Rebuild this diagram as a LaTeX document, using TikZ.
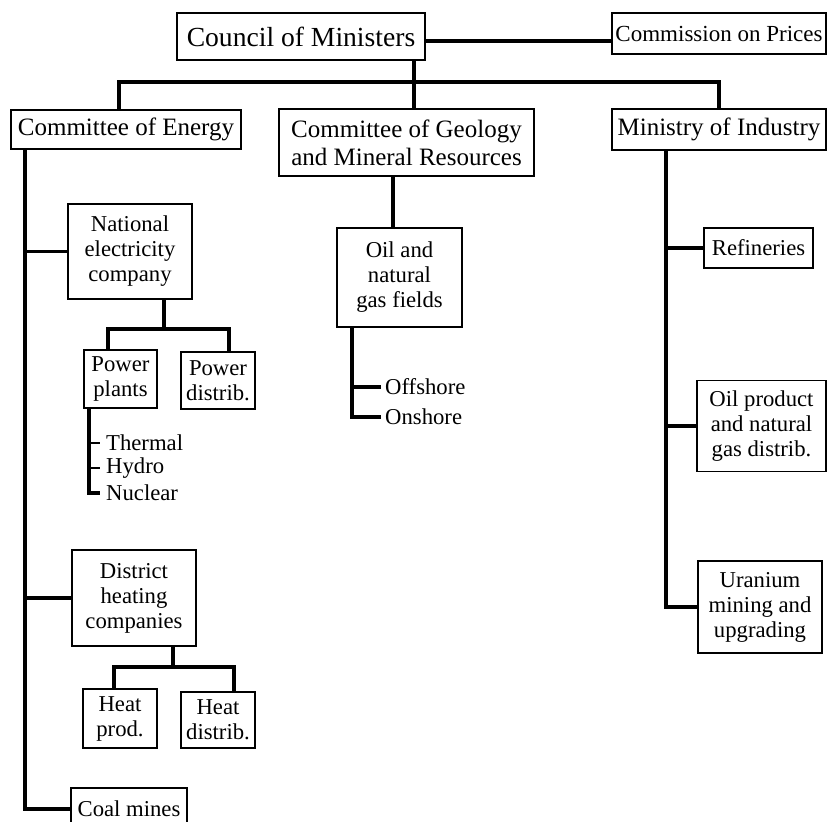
\documentclass[tikz,border=0pt]{standalone}
\usepackage{fontspec}
\setmainfont{Liberation Serif}
\newcommand\fntS{\fontsize{22.7pt}{25pt}\selectfont}
\newcommand\fntC{\fontsize{23pt}{26pt}\selectfont}
\newcommand\fntM{\fontsize{25pt}{28pt}\selectfont}
\newcommand\fntL{\fontsize{27.6pt}{30pt}\selectfont}
\tikzset{
  box/.style={draw, line width=1.1pt, inner sep=0pt, align=center},
  conn/.style={line width=3.2pt, line cap=butt, line join=miter},
  ticker/.style={line width=2.2pt},
  item/.style={inner sep=0pt, anchor=west, font=\fntS},
}
\begin{document}
\begin{tikzpicture}[x=1pt, y=-1pt]
\useasboundingbox (0,0) rectangle (828,822);
% top level
\node[box, font=\fntL, minimum width=248pt, minimum height=47pt] (council) at (301,36.5) {Council of Ministers};
\node[box, font=\fntC, minimum width=214pt, minimum height=41pt] (comm) at (719,33.5) {Commission on Prices};
% second level
\node[box, font=\fntM, minimum width=230pt, minimum height=39pt] (energy) at (126,129.5) {Committee of Energy};
\node[box, font=\fntM, minimum width=255pt, minimum height=67pt] (geology) at (406.5,142.5) {Committee of Geology\\and Mineral Resources};
\node[box, font=\fntM, minimum width=214pt, minimum height=41pt] (ministry) at (719,129.5) {Ministry of Industry};
% energy branch
\node[box, font=\fntS, minimum width=124pt, minimum height=95pt] (nec) at (130,251.5) {National\\electricity\\company};
\node[box, font=\fntS, minimum width=73pt, minimum height=58pt] (pplants) at (120.5,379) {Power\\plants};
\node[box, font=\fntS, minimum width=74pt, minimum height=57pt] (pdist) at (218,380.5) {Power\\distrib.};
\node[item] (thermal) at (106,443) {Thermal};
\node[item] (hydro) at (106,468) {Hydro};
\node[item] (nuclear) at (106,493) {Nuclear};
\node[box, font=\fntS, minimum width=124pt, minimum height=96pt] (dh) at (134,598) {District\\heating\\companies};
\node[box, font=\fntS, minimum width=74pt, minimum height=59pt] (heatprod) at (120,718.5) {Heat\\prod.};
\node[box, font=\fntS, minimum width=74pt, minimum height=56pt] (heatdist) at (218,720) {Heat\\distrib.};
\node[box, font=\fntS, minimum width=116pt, minimum height=42pt] (coal) at (129,809) {Coal mines};
% geology branch
\node[box, font=\fntS, minimum width=125pt, minimum height=99pt] (oil) at (399.5,277.5) {Oil and\\natural\\gas fields};
\node[item] (offshore) at (385,387) {Offshore};
\node[item] (onshore) at (385,417) {Onshore};
% ministry branch
\node[box, font=\fntS, minimum width=109pt, minimum height=40pt] (refineries) at (758.5,248) {Refineries};
\node[box, font=\fntS, minimum width=129pt, minimum height=91pt] (oilprod) at (761.5,426) {Oil product\\and natural\\gas distrib.};
\node[box, font=\fntS, minimum width=124pt, minimum height=92pt] (uranium) at (760,607) {Uranium\\mining and\\upgrading};

% connectors: top
\coordinate (cl) at ([yshift=-4.5pt]council.east);
\draw[conn] (cl) -- (cl -| comm.west);
\coordinate (topbus) at (414,82);
\draw[conn] (council.south -| topbus) -- (topbus);
\draw[conn] ([xshift=-7pt]energy.north) |- (topbus) -| (ministry.north);
\draw[conn] (geology.north -| topbus) -- (topbus);
% energy trunk
\coordinate (etop) at ([xshift=-101pt]energy.south);
\draw[conn] (etop) |- (coal.west);
\draw[conn] (etop |- nec.west) -- (nec.west);
\draw[conn] (etop |- dh.west) -- (dh.west);
% nec children
\coordinate (nb) at (164,329);
\draw[conn] (nb |- nec.south) -- (nb);
\draw[conn] ([xshift=-12.5pt]pplants.north) |- (nb) -| ([xshift=11pt]pdist.north);
% power plant items
\coordinate (pt) at ([xshift=-31.5pt]pplants.south);
\draw[conn] (pt) |- ([xshift=-6pt]nuclear.west);
\draw[ticker] (pt |- thermal.west) -- ([xshift=-6pt]thermal.west);
\draw[ticker] (pt |- hydro.west) -- ([xshift=-6pt]hydro.west);
% district heating children
\coordinate (db) at (173,667);
\draw[conn] (db |- dh.south) -- (db);
\draw[conn] ([xshift=-6pt]heatprod.north) |- (db) -| ([xshift=16pt]heatdist.north);
% geology -> oil
\coordinate (go) at ([xshift=-6.5pt]oil.north);
\draw[conn] (go |- geology.south) -- (go);
\coordinate (os) at ([xshift=-47.5pt]oil.south);
\draw[conn] (os) |- ([xshift=-4pt]onshore.west);
\draw[conn] (os |- offshore.west) -- ([xshift=-4pt]offshore.west);
% ministry trunk
\coordinate (mt) at ([xshift=-53pt]ministry.south);
\draw[conn] (mt) |- (uranium.west);
\draw[conn] (mt |- refineries.west) -- (refineries.west);
\draw[conn] (mt |- oilprod.west) -- (oilprod.west);
\end{tikzpicture}
\end{document}
